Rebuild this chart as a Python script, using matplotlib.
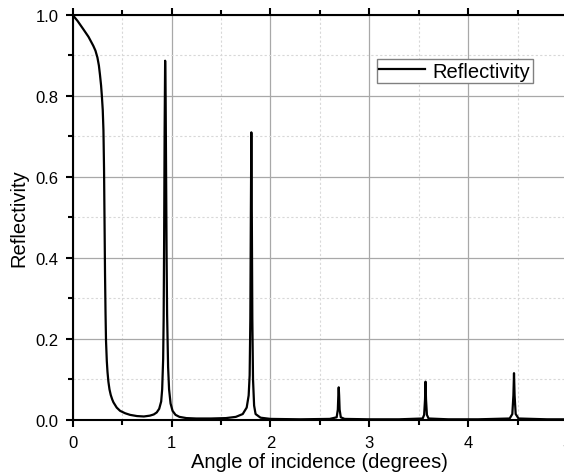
import matplotlib
matplotlib.use("Agg")
import matplotlib.pyplot as plt
import numpy as np
from matplotlib.ticker import MultipleLocator

plt.rcParams['font.family'] = ['Liberation Sans', 'DejaVu Sans']

# angle of incidence (degrees) and reflectivity
angle = [0.0, 0.05, 0.107, 0.16, 0.208, 0.23, 0.25, 0.265, 0.276, 0.287, 0.295,
         0.304, 0.311, 0.317, 0.322, 0.327, 0.332, 0.337, 0.345, 0.352, 0.361,
         0.372, 0.385, 0.40, 0.412, 0.445, 0.479, 0.53, 0.58, 0.65, 0.72, 0.78,
         0.82, 0.85, 0.875, 0.895, 0.905, 0.915, 0.92, 0.925, 0.93, 0.935, 0.94,
         0.945, 0.95, 0.955, 0.965, 0.975, 0.99, 1.01, 1.04, 1.08, 1.15, 1.25,
         1.4, 1.55, 1.65, 1.72, 1.76, 1.78, 1.79, 1.797, 1.802, 1.807, 1.812,
         1.817, 1.824, 1.835, 1.85, 1.9, 2.0, 2.3, 2.6, 2.67, 2.682, 2.687,
         2.691, 2.695, 2.7, 2.712, 2.75, 3.0, 3.3, 3.54, 3.555, 3.564, 3.569,
         3.574, 3.583, 3.6, 3.8, 4.1, 4.42, 4.447, 4.458, 4.464, 4.47, 4.481,
         4.51, 4.8, 5.0]
refl = [1.0, 0.985, 0.965, 0.946, 0.924, 0.912, 0.895, 0.875, 0.852, 0.826, 0.80,
        0.765, 0.715, 0.620, 0.490, 0.360, 0.265, 0.195, 0.145, 0.118, 0.094,
        0.075, 0.061, 0.050, 0.043, 0.030, 0.022, 0.016, 0.012, 0.009, 0.008,
        0.010, 0.013, 0.018, 0.027, 0.045, 0.075, 0.15, 0.25, 0.45, 0.72, 0.887,
        0.80, 0.60, 0.40, 0.26, 0.13, 0.075, 0.040, 0.022, 0.012, 0.007, 0.004,
        0.003, 0.003, 0.004, 0.007, 0.014, 0.03, 0.06, 0.11, 0.25, 0.50, 0.710,
        0.50, 0.25, 0.10, 0.035, 0.014, 0.005, 0.002, 0.001, 0.002, 0.006, 0.025,
        0.06, 0.080, 0.06, 0.025, 0.006, 0.002, 0.001, 0.001, 0.003, 0.012, 0.05,
        0.094, 0.05, 0.012, 0.003, 0.001, 0.001, 0.003, 0.014, 0.06, 0.115, 0.06,
        0.014, 0.003, 0.001, 0.001]

fig = plt.figure(figsize=(5.64, 4.77), dpi=100)
ax = fig.add_axes([0.1289, 0.118, 0.8764, 0.8485])

ax.plot(angle, refl, color='black', lw=1.6, label='Reflectivity')

ax.set_xlim(0, 5)
ax.set_ylim(0, 1.0)
ax.xaxis.set_major_locator(MultipleLocator(1))
ax.xaxis.set_minor_locator(MultipleLocator(0.5))
ax.yaxis.set_minor_locator(MultipleLocator(0.1))
ax.set_yticks(np.arange(0, 1.01, 0.2))
ax.set_yticklabels(['%.1f' % v for v in np.arange(0, 1.01, 0.2)])

ax.grid(True, which='major', color='#a8a8a8', lw=0.9, ls='-')
ax.grid(True, which='minor', color='#d8d8d8', lw=0.8, ls=(0, (2, 2)))
ax.set_axisbelow(True)

for s in ax.spines.values():
    s.set_linewidth(1.5)

ax.tick_params(which='both', direction='out', top=True, right=True,
               width=1.5, labelsize=12)
ax.tick_params(which='major', length=5.3, pad=5)
ax.tick_params(which='minor', length=3.3)
ax.tick_params(axis='x', which='major', pad=6)

ax.set_xlabel('Angle of incidence (degrees)', fontsize=14.5, labelpad=1)
ax.set_ylabel('Reflectivity', fontsize=14.5, labelpad=5)

leg = ax.legend(loc='upper right', bbox_to_anchor=(0.9306, 0.891),
                borderaxespad=0, fontsize=14.5, fancybox=False, framealpha=1,
                edgecolor='#808080', handlelength=2.3, borderpad=0.12,
                handletextpad=0.35)
leg.get_frame().set_linewidth(1.0)

fig.savefig('out.png', dpi=100)
